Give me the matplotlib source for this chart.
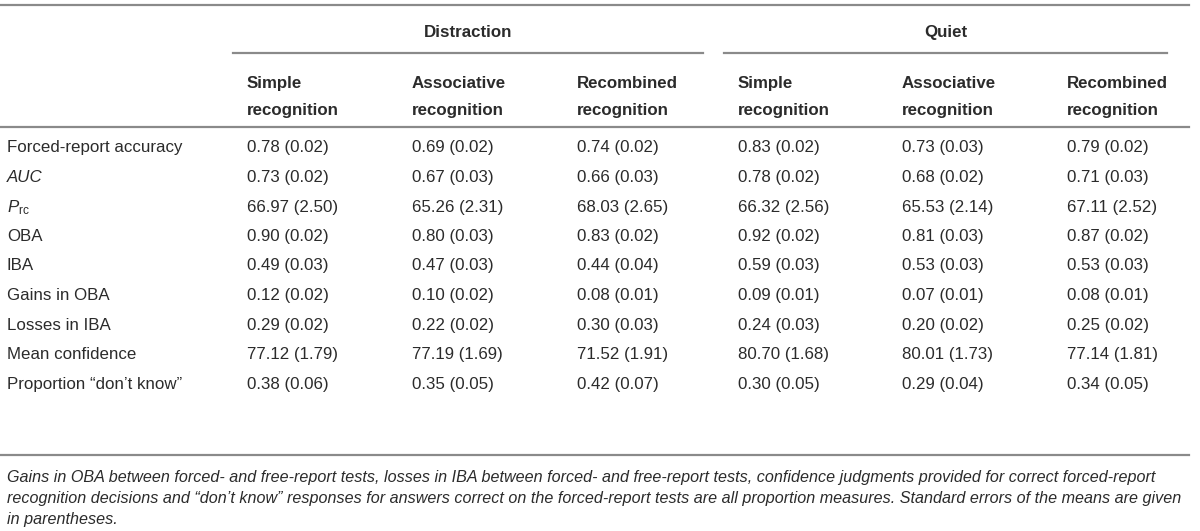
import matplotlib
matplotlib.use("Agg")
import matplotlib.pyplot as plt

plt.rcParams['font.family'] = ['Liberation Sans', 'DejaVu Sans']
plt.rcParams['mathtext.fontset'] = 'custom'
plt.rcParams['mathtext.rm'] = 'Liberation Sans'
plt.rcParams['mathtext.it'] = 'Liberation Sans:italic'

groups = ["Distraction", "Quiet"]
col_top = ["Simple", "Associative", "Recombined"] * 2
col_bottom = ["recognition"] * 6
row_labels = ["Forced-report accuracy", "AUC", r"$P_{\mathrm{rc}}$", "OBA", "IBA",
              "Gains in OBA", "Losses in IBA", "Mean confidence",
              "Proportion \u201cdon\u2019t know\u201d"]
means = [
    [0.78, 0.69, 0.74, 0.83, 0.73, 0.79],
    [0.73, 0.67, 0.66, 0.78, 0.68, 0.71],
    [66.97, 65.26, 68.03, 66.32, 65.53, 67.11],
    [0.90, 0.80, 0.83, 0.92, 0.81, 0.87],
    [0.49, 0.47, 0.44, 0.59, 0.53, 0.53],
    [0.12, 0.10, 0.08, 0.09, 0.07, 0.08],
    [0.29, 0.22, 0.30, 0.24, 0.20, 0.25],
    [77.12, 77.19, 71.52, 80.70, 80.01, 77.14],
    [0.38, 0.35, 0.42, 0.30, 0.29, 0.34],
]
errors = [
    [0.02, 0.02, 0.02, 0.02, 0.03, 0.02],
    [0.02, 0.03, 0.03, 0.02, 0.02, 0.03],
    [2.50, 2.31, 2.65, 2.56, 2.14, 2.52],
    [0.02, 0.03, 0.02, 0.02, 0.03, 0.02],
    [0.03, 0.03, 0.04, 0.03, 0.03, 0.03],
    [0.02, 0.02, 0.01, 0.01, 0.01, 0.01],
    [0.02, 0.02, 0.03, 0.03, 0.02, 0.02],
    [1.79, 1.69, 1.91, 1.68, 1.73, 1.81],
    [0.06, 0.05, 0.07, 0.05, 0.04, 0.05],
]
footnote = [
    "Gains in OBA between forced- and free-report tests, losses in IBA between forced- and free-report tests, confidence judgments provided for correct forced-report",
    "recognition decisions and \u201cdon\u2019t know\u201d responses for answers correct on the forced-report tests are all proportion measures. Standard errors of the means are given",
    "in parentheses.",
]

fig = plt.figure(figsize=(12, 5.31), dpi=100)
ax = fig.add_axes([0, 0, 1, 1])
ax.set_xlim(0, 1200)
ax.set_ylim(531, 0)
ax.axis('off')

txt = '#2b2b2b'
rule = '#8a8a8a'
fs = 12.2
col_x = [247, 412, 577, 738, 902, 1067]
row_y = [152, 182, 212, 241, 270, 300, 330, 359, 389]   # baselines

# rules
ax.plot([0, 1189], [5, 5], color=rule, lw=1.6)
ax.plot([233, 703], [53, 53], color=rule, lw=1.6)
ax.plot([724, 1167], [53, 53], color=rule, lw=1.6)
ax.plot([0, 1189], [127, 127], color=rule, lw=1.6)
ax.plot([0, 1189], [455, 455], color=rule, lw=1.6)

# group headers
ax.text((233 + 703) / 2, 37, groups[0], ha='center', va='baseline', fontsize=fs, weight='bold', color=txt)
ax.text((724 + 1167) / 2, 37, groups[1], ha='center', va='baseline', fontsize=fs, weight='bold', color=txt)

for x, t, b in zip(col_x, col_top, col_bottom):
    ax.text(x, 88, t, ha='left', va='baseline', fontsize=fs, weight='bold', color=txt)
    ax.text(x, 115, b, ha='left', va='baseline', fontsize=fs, weight='bold', color=txt)

for i, (lab, y) in enumerate(zip(row_labels, row_y)):
    style = 'italic' if lab == "AUC" else 'normal'
    ax.text(7, y, lab, ha='left', va='baseline', fontsize=fs, style=style, color=txt)
    for j, x in enumerate(col_x):
        ax.text(x, y, f"{means[i][j]:.2f} ({errors[i][j]:.2f})", ha='left', va='baseline',
                fontsize=fs, color=txt)

for k, line in enumerate(footnote):
    ax.text(7, 482 + 21 * k, line, ha='left', va='baseline', fontsize=11.6,
            style='italic', color=txt)

fig.savefig("out.png", dpi=100)
